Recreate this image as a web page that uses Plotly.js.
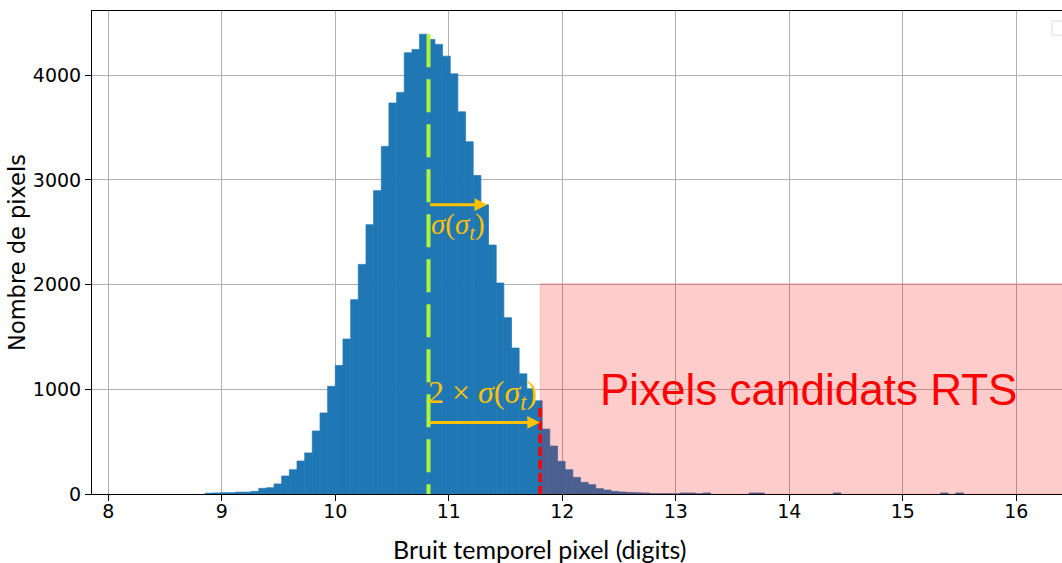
<!DOCTYPE html>
<html><head><meta charset="utf-8">
<script src="https://cdn.plot.ly/plotly-3.0.1.min.js"></script>
<style>html,body{margin:0;padding:0;background:#fff;overflow:hidden}#chart{width:1062px;height:563px}</style>
</head><body><div id="chart"></div>
<script>
// Histogram bins (centres, digits) and counts
const binCenters = [
  8.886, 8.954, 9.021, 9.089, 9.156, 9.224, 9.291, 9.359, 9.426, 9.494,
  9.561, 9.629, 9.696, 9.764, 9.831, 9.899, 9.966, 10.034, 10.101, 10.169,
  10.236, 10.304, 10.371, 10.439, 10.506, 10.574, 10.641, 10.709, 10.776, 10.844,
  10.911, 10.979, 11.046, 11.114, 11.181, 11.249, 11.316, 11.384, 11.451, 11.519,
  11.586, 11.654, 11.721, 11.789, 11.856, 11.924, 11.991, 12.059, 12.126, 12.194,
  12.261, 12.329, 12.396, 12.464, 12.531, 12.599, 12.666, 12.734, 12.801, 12.869,
  12.936, 13.004, 13.071, 13.139, 13.206, 13.274, 13.679, 13.746, 14.421, 15.366,
  15.501
];
const pixelCounts = [
  8, 10, 12, 12, 18, 18, 25, 54, 60, 96,
  172, 232, 315, 392, 602, 774, 1028, 1228, 1480, 1856,
  2193, 2572, 2897, 3320, 3734, 3835, 4214, 4246, 4392, 4341,
  4294, 4182, 4013, 3650, 3364, 3042, 2763, 2378, 2015, 1684,
  1394, 1148, 1005, 890, 620, 458, 312, 232, 159, 111,
  89, 51, 38, 25, 19, 15, 12, 10, 3, 2,
  2, 1, 10, 10, 2, 10, 10, 10, 10, 10,
  10
];
const binWidth = 0.0675;
const xTickVals = [8, 9, 10, 11, 12, 13, 14, 15, 16];
const yTickVals = [0, 1000, 2000, 3000, 4000];

// Reference values (annotations)
const meanNoise = 10.821;        // mean of the distribution (green line)
const oneSigmaEnd = 11.339;      // mean + sigma
const rtsThreshold = 11.804;     // mean + 2 sigma (red line)
const peakCount = 4392;
const thresholdLineTop = 821;
const rtsBoxTop = 2010;
const sigmaArrowY = 2763;
const twoSigmaArrowY = 684;

const orange = '#FFC000';

const trace = {
  type: 'bar',
  x: binCenters,
  y: pixelCounts,
  width: binWidth,
  marker: {color: '#1f77b4', line: {width: 0.7, color: '#1f77b4'}},
  hoverinfo: 'x+y',
  showlegend: false
};

const layout = {
  width: 1062, height: 563,
  margin: {l: 92, r: 0, t: 11, b: 69},
  paper_bgcolor: '#ffffff', plot_bgcolor: '#ffffff',
  showlegend: false,
  font: {family: 'DejaVu Sans, sans-serif', color: '#000000'},
  xaxis: {
    range: [7.856, 16.403],
    tickmode: 'array', tickvals: xTickVals, ticktext: xTickVals.map(String),
    ticks: 'outside', ticklen: 6, tickcolor: '#000', tickwidth: 1,
    ticklabelstandoff: -6,
    tickfont: {family: 'DejaVu Sans', size: 19, color: '#000'},
    showgrid: true, gridcolor: '#b0b0b0', gridwidth: 1,
    showline: true, linecolor: '#000', linewidth: 1, mirror: true,
    zeroline: false
  },
  yaxis: {
    range: [0, 4613],
    tickmode: 'array', tickvals: yTickVals, ticktext: yTickVals.map(String),
    ticks: 'outside', ticklen: 6, tickcolor: '#000', tickwidth: 1,
    tickfont: {family: 'DejaVu Sans', size: 19, color: '#000'},
    showgrid: true, gridcolor: '#b0b0b0', gridwidth: 1,
    showline: true, linecolor: '#000', linewidth: 1, mirror: false,
    zeroline: false,
    title: {text: 'Nombre de pixels', font: {family: 'DejaVu Sans', size: 22.5, color: '#000'}, standoff: 0}
  },
  shapes: [
    {type: 'rect', layer: 'above', xref: 'x', yref: 'y',
     x0: rtsThreshold, x1: 17, y0: 0, y1: rtsBoxTop,
     fillcolor: 'rgba(255,0,0,0.2)', line: {color: 'rgba(255,0,0,0.12)', width: 1}},
    {type: 'line', layer: 'above', xref: 'x', yref: 'y',
     x0: meanNoise, x1: meanNoise, y0: peakCount, y1: 0,
     line: {color: '#b0f53a', width: 4, dash: '33px,12px'}},
    {type: 'line', layer: 'above', xref: 'x', yref: 'y',
     x0: rtsThreshold, x1: rtsThreshold, y0: thresholdLineTop, y1: 0,
     line: {color: '#ff0000', width: 3.5, dash: '9px,4px'}},
    {type: 'rect', layer: 'above', xref: 'paper', yref: 'paper',
     x0: 0.9897, x1: 1.03, y0: 0.950, y1: 0.979,
     fillcolor: 'rgba(255,255,255,0.8)', line: {color: '#dcdcdc', width: 1}}
  ],
  annotations: [
    {xref: 'x', yref: 'y', x: oneSigmaEnd, y: sigmaArrowY, axref: 'x', ayref: 'y',
     ax: meanNoise, ay: sigmaArrowY, text: '', showarrow: true, arrowhead: 2,
     arrowsize: 0.85, arrowwidth: 3, arrowcolor: orange},
    {xref: 'x', yref: 'y', x: rtsThreshold, y: twoSigmaArrowY, axref: 'x', ayref: 'y',
     ax: meanNoise, ay: twoSigmaArrowY, text: '', showarrow: true, arrowhead: 2,
     arrowsize: 0.85, arrowwidth: 3, arrowcolor: orange},
    {xref: 'x', yref: 'y', x: 11.085, y: 2561, showarrow: false,
     text: '<i>σ</i>(<i>σ<sub>t</sub></i>)',
     font: {family: 'Liberation Serif, serif', size: 29, color: orange},
     xanchor: 'center', yanchor: 'middle'},
    {xref: 'x', yref: 'y', x: 11.30, y: 950, showarrow: false,
     text: '2 × <i>σ</i>(<i>σ<sub>t</sub></i>)',
     font: {family: 'Liberation Serif, serif', size: 32, color: orange},
     xanchor: 'center', yanchor: 'middle'},
    {xref: 'x', yref: 'y', x: 14.165, y: 997, showarrow: false,
     text: 'Pixels candidats RTS',
     font: {family: 'Liberation Sans, Arial, sans-serif', size: 44, color: '#ff0000'},
     xanchor: 'center', yanchor: 'middle'},
    {xref: 'paper', yref: 'paper', x: 0.4619, y: -0.1139, showarrow: false,
     text: 'Bruit temporel pixel (digits)',
     font: {family: 'Lato, sans-serif', size: 25, color: '#000'},
     xanchor: 'center', yanchor: 'middle'}
  ]
};

Plotly.newPlot('chart', [trace], layout, {displayModeBar: false, staticPlot: true});
</script>
</body></html>
